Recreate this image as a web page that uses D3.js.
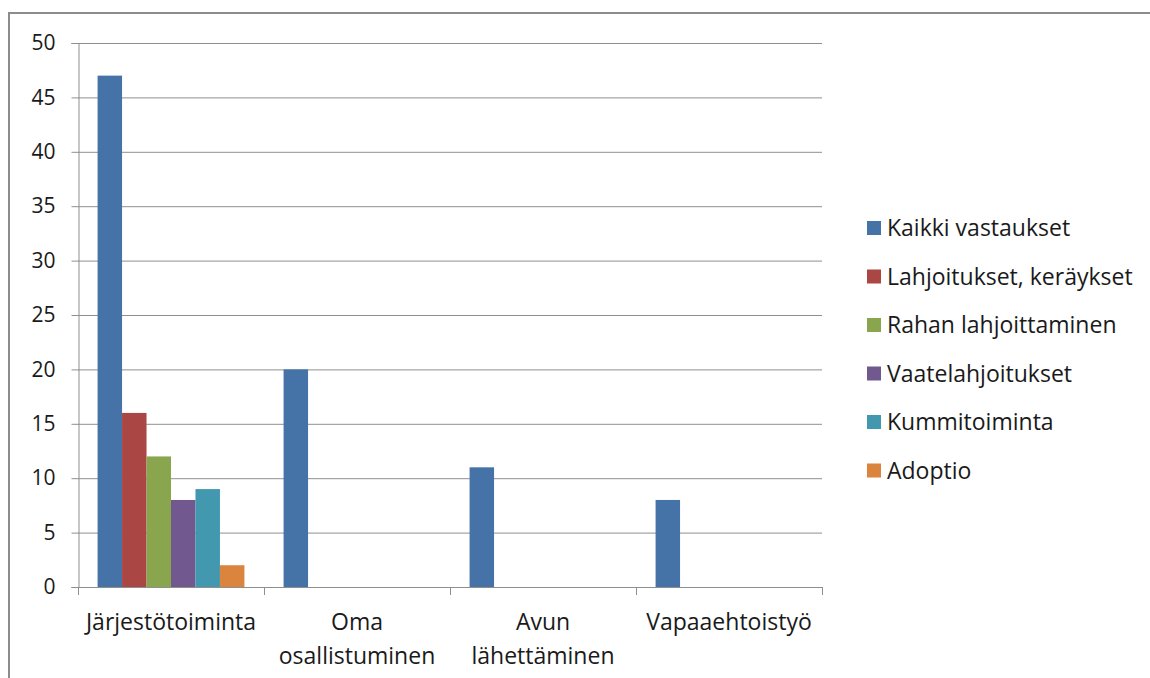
<!DOCTYPE html>
<html>
<head>
<meta charset="utf-8">
<script src="https://cdn.jsdelivr.net/npm/d3@7"></script>
<style>
  html, body { margin: 0; padding: 0; background: #fff; }
  svg { display: block; font-family: "Open Sans", sans-serif; }
</style>
</head>
<body>
<svg id="chart" width="1150" height="678"></svg>
<script>
// Categories (x axis, two-line labels where wrapped)
const categories = ["Järjestötoiminta", "Oma osallistuminen", "Avun lähettäminen", "Vapaaehtoistyö"];
const categoryLines = [["Järjestötoiminta"], ["Oma", "osallistuminen"], ["Avun", "lähettäminen"], ["Vapaaehtoistyö"]];

// Series names and their values per category
const seriesNames = ["Kaikki vastaukset", "Lahjoitukset, keräykset", "Rahan lahjoittaminen", "Vaatelahjoitukset", "Kummitoiminta", "Adoptio"];
const kaikkiVastaukset = [47, 20, 11, 8];
const lahjoitukset     = [16, null, null, null];
const rahanLahjoitus   = [12, null, null, null];
const vaatelahjoitukset = [8, null, null, null];
const kummitoiminta    = [9, null, null, null];
const adoptio          = [2, null, null, null];
const seriesValues = [kaikkiVastaukset, lahjoitukset, rahanLahjoitus, vaatelahjoitukset, kummitoiminta, adoptio];

const yTicks = [0, 5, 10, 15, 20, 25, 30, 35, 40, 45, 50];
const colors = ["#4572A7", "#AA4643", "#89A54E", "#71588F", "#4198AF", "#DB843D"];

const svg = d3.select("#chart");

// outer chart frame
svg.append("rect")
  .attr("x", 9).attr("y", 13)
  .attr("width", 1160).attr("height", 700)
  .attr("fill", "none").attr("stroke", "#8c8c8c").attr("stroke-width", 2);

const plot = { left: 78, right: 822, top: 43, bottom: 587 };

const x0 = d3.scaleBand().domain(categories).range([plot.left, plot.right]).paddingInner(0).paddingOuter(0);
const x1 = d3.scaleBand().domain(d3.range(seriesNames.length))
  .range([0, x0.bandwidth()]).paddingInner(0).paddingOuter(0.8);
const y = d3.scaleLinear().domain([0, 50]).range([plot.bottom, plot.top]);

// horizontal gridlines
svg.append("g").selectAll("line").data(yTicks.filter(d => d > 0)).join("line")
  .attr("x1", plot.left).attr("x2", plot.right)
  .attr("y1", d => y(d) + 0.5).attr("y2", d => y(d) + 0.5)
  .attr("stroke", "#8f8f8f").attr("stroke-width", 1);

// y axis
const yAxis = svg.append("g").attr("transform", `translate(${plot.left + 0.5},0)`)
  .call(d3.axisLeft(y).tickValues(yTicks).tickSize(7).tickPadding(16));
yAxis.select(".domain").attr("stroke", "#8f8f8f");
yAxis.selectAll(".tick line").attr("stroke", "#8f8f8f");
yAxis.selectAll(".tick text").attr("font-size", 21).attr("fill", "#1a1a1a")
  .attr("font-family", "'Open Sans', sans-serif");

// bars
const groups = svg.append("g").selectAll("g").data(categories).join("g")
  .attr("transform", d => `translate(${x0(d)},0)`);
groups.selectAll("rect")
  .data((c, ci) => seriesValues.map((vals, si) => ({ si, v: vals[ci] })).filter(d => d.v != null))
  .join("rect")
  .attr("x", d => x1(d.si))
  .attr("width", x1.bandwidth())
  .attr("y", d => y(d.v))
  .attr("height", d => y(0) - y(d.v))
  .attr("fill", d => colors[d.si]);

// x axis baseline and ticks
const xAxisG = svg.append("g");
xAxisG.append("line")
  .attr("x1", plot.left).attr("x2", plot.right)
  .attr("y1", y(0) + 0.5).attr("y2", y(0) + 0.5)
  .attr("stroke", "#8f8f8f");
const boundaries = categories.map(c => x0(c)).concat([plot.right]);
xAxisG.selectAll("line.tick").data(boundaries).join("line")
  .attr("class", "tick")
  .attr("x1", d => Math.round(d) + 0.5).attr("x2", d => Math.round(d) + 0.5)
  .attr("y1", y(0)).attr("y2", y(0) + 8)
  .attr("stroke", "#8f8f8f");

// category labels
const labels = svg.append("g").selectAll("text").data(categories).join("text")
  .attr("x", d => x0(d) + x0.bandwidth() / 2)
  .attr("y", 630)
  .attr("text-anchor", "middle")
  .attr("font-size", 23)
  .attr("fill", "#1a1a1a");
labels.each(function(d, i) {
  d3.select(this).selectAll("tspan").data(categoryLines[i]).join("tspan")
    .attr("x", x0(d) + x0.bandwidth() / 2)
    .attr("dy", (t, j) => j === 0 ? 0 : 34)
    .text(t => t);
});

// legend
const legend = svg.append("g").selectAll("g").data(seriesNames).join("g")
  .attr("transform", (d, i) => `translate(867,${228 + i * 48.5})`);
legend.append("rect")
  .attr("x", 0).attr("y", -7).attr("width", 14).attr("height", 14)
  .attr("fill", (d, i) => colors[i]);
legend.append("text")
  .attr("x", 20).attr("y", 8)
  .attr("font-size", 23)
  .attr("fill", "#1a1a1a")
  .text(d => d);
</script>
</body>
</html>
